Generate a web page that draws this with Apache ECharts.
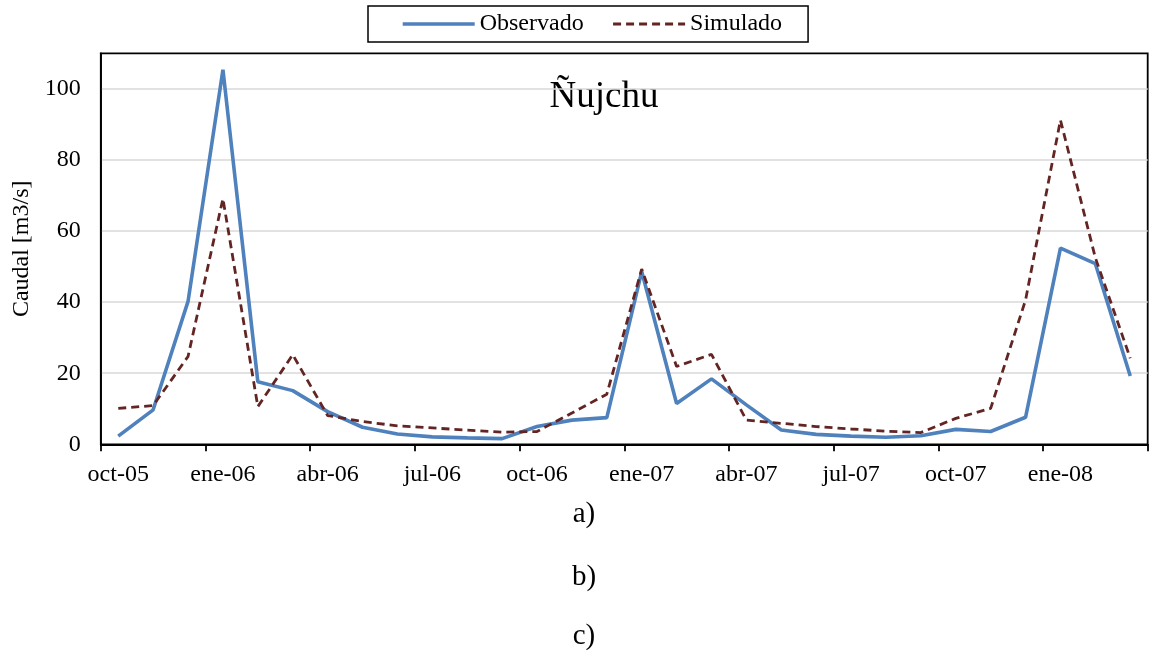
<!DOCTYPE html>
<html>
<head>
<meta charset="utf-8">
<script src="https://cdn.jsdelivr.net/npm/echarts@6/dist/echarts.min.js"></script>
<style>
html,body{margin:0;padding:0;background:#fff;}
#chart{width:1149px;height:652px;}
</style>
</head>
<body>
<div id="chart"></div>
<script>
var categories = ['oct-05','nov-05','dic-05','ene-06','feb-06','mar-06','abr-06','may-06','jun-06','jul-06','ago-06','sep-06',
  'oct-06','nov-06','dic-06','ene-07','feb-07','mar-07','abr-07','may-07','jun-07','jul-07','ago-07','sep-07',
  'oct-07','nov-07','dic-07','ene-08','feb-08','mar-08'];
var observado = [2.3, 9.7, 40.2, 105.4, 17.6, 15.1, 9.2, 4.8, 2.9, 2.1, 1.8, 1.6,
  5.0, 6.8, 7.5, 48.6, 11.5, 18.4, 11.1, 4.0, 2.8, 2.3, 2.0, 2.4,
  4.2, 3.6, 7.6, 55.2, 50.8, 19.2];
var simulado = [10.1, 10.9, 24.7, 69.1, 10.6, 25.2, 8.1, 6.4, 5.2, 4.6, 4.0, 3.4,
  3.6, 8.8, 14.1, 49.3, 21.9, 25.3, 6.8, 5.9, 5.0, 4.3, 3.7, 3.3,
  7.3, 10.1, 40.6, 91.2, 52.5, 24.2];
var seriesNames = ['Observado', 'Simulado'];
var chartTitle = 'Ñujchu';
var yAxisName = 'Caudal [m3/s]';
var captions = ['a)', 'b)', 'c)'];

var FONT = '"Liberation Serif", "Times New Roman", serif';
var BLUE = '#4F81BD';
var RED = '#632523';
var chart = echarts.init(document.getElementById('chart'), null, {renderer: 'canvas'});
chart.setOption({
  animation: false,
  backgroundColor: '#fff',
  textStyle: {fontFamily: FONT, color: '#000'},
  legend: {
    top: 6,
    left: 368,
    data: [
      {name: seriesNames[0], lineStyle: {color: BLUE, width: 3.4, type: 'solid'}},
      {name: seriesNames[1], lineStyle: {color: RED, width: 2.8, type: [8, 5]}}
    ],
    itemWidth: 72,
    itemHeight: 14,
    itemGap: 28,
    borderColor: '#000',
    borderWidth: 1.5,
    padding: [6, 26, 6, 33],
    itemStyle: {color: 'transparent', borderWidth: 0, opacity: 0},
    textStyle: {fontFamily: FONT, fontSize: 24, color: '#000'}
  },
  grid: {
    left: 100.8,
    right: 1.3,
    top: 53.3,
    bottom: 207.7,
    show: true,
    borderColor: '#000',
    borderWidth: 1.8,
    containLabel: false,
    outerBoundsMode: 'none'
  },
  xAxis: {
    type: 'category',
    data: categories,
    boundaryGap: true,
    axisLine: {lineStyle: {color: '#000', width: 1.8}},
    axisTick: {show: true, interval: 2, length: 7, lineStyle: {color: '#000', width: 1.8}},
    axisLabel: {interval: 2, margin: 18, fontFamily: FONT, fontSize: 24, color: '#000'},
    splitLine: {show: false}
  },
  yAxis: {
    type: 'value',
    min: 0,
    max: 110,
    interval: 20,
    name: yAxisName,
    nameLocation: 'middle',
    nameGap: 60,
    nameTextStyle: {fontFamily: FONT, fontSize: 24, color: '#000'},
    axisLine: {show: true, lineStyle: {color: '#000', width: 1.8}},
    axisTick: {show: false},
    axisLabel: {
      margin: 20, fontFamily: FONT, fontSize: 24, color: '#000',
      formatter: function (v) { return v > 100 ? '' : String(v); }
    },
    splitLine: {show: true, showMaxLine: false, showMinLine: false, lineStyle: {color: '#d9d9d9', width: 1.5}}
  },
  graphic: [
    {type: 'text', x: 604, y: 97, style: {text: chartTitle, fontFamily: FONT, fontSize: 37, fill: '#000', align: 'center', verticalAlign: 'middle'}},
    {type: 'text', x: 584, y: 514, style: {text: captions[0], fontFamily: FONT, fontSize: 29, fill: '#000', align: 'center', verticalAlign: 'middle'}},
    {type: 'text', x: 584, y: 577, style: {text: captions[1], fontFamily: FONT, fontSize: 29, fill: '#000', align: 'center', verticalAlign: 'middle'}},
    {type: 'text', x: 584, y: 636, style: {text: captions[2], fontFamily: FONT, fontSize: 29, fill: '#000', align: 'center', verticalAlign: 'middle'}}
  ],
  series: [
    {
      name: seriesNames[0],
      type: 'line',
      data: observado,
      symbol: 'none',
      color: BLUE,
      lineStyle: {color: BLUE, width: 3.6},
      z: 2
    },
    {
      name: seriesNames[1],
      type: 'line',
      data: simulado,
      symbol: 'none',
      color: RED,
      lineStyle: {color: RED, width: 2.8, type: [8, 5]},
      z: 3
    }
  ]
});
</script>
</body>
</html>
